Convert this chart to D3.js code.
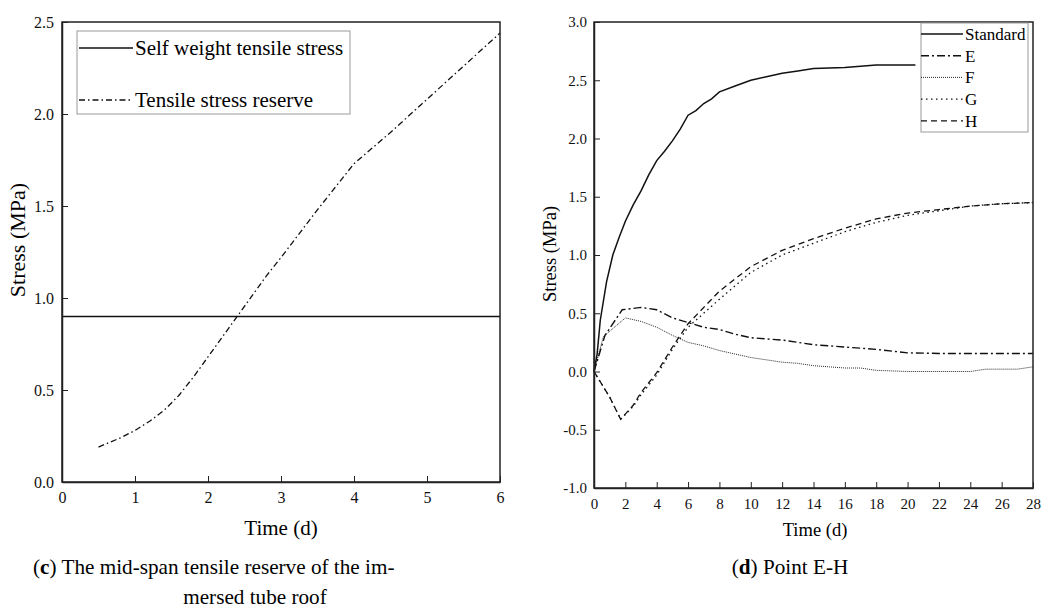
<!DOCTYPE html>
<html>
<head>
<meta charset="utf-8">
<script src="https://cdn.jsdelivr.net/npm/d3@7"></script>
<style>
  body { margin: 0; background: #fff; }
  svg { font-family: "Liberation Serif", "Times New Roman", serif; }
  .axis path, .axis line { stroke: #222; }
  .axis text { font-family: "Liberation Serif", serif; fill: #111; }
</style>
</head>
<body>
<script>
// ---- panel (c) data ----
const selfWeight = 0.9;
const reserveTime = [0.5, 0.8, 1.0, 1.2, 1.4, 1.6, 1.8, 2.0, 2.2, 2.4, 2.6, 2.8, 3.0, 3.5, 4.0, 4.5, 5.0, 5.5, 6.0];
const reserveStress = [0.19, 0.24, 0.28, 0.33, 0.39, 0.47, 0.57, 0.68, 0.79, 0.90, 1.01, 1.12, 1.22, 1.48, 1.73, 1.90, 2.08, 2.26, 2.44];
const cTicksX = [0, 1, 2, 3, 4, 5, 6];
const cTicksY = [0, 0.5, 1.0, 1.5, 2.0, 2.5];

// ---- panel (d) data ----
const stdTime = [0, 0.2, 0.4, 0.8, 1.2, 1.6, 2.0, 2.5, 3.0, 3.5, 4.0, 4.5, 5, 5.5, 6, 6.5, 7, 7.5, 8, 9, 10, 11, 12, 13, 14, 16, 18, 20.5];
const stdStress = [0, 0.15, 0.44, 0.77, 1.0, 1.15, 1.29, 1.43, 1.55, 1.69, 1.81, 1.89, 1.98, 2.08, 2.2, 2.24, 2.3, 2.34, 2.4, 2.45, 2.5, 2.53, 2.56, 2.58, 2.6, 2.61, 2.63, 2.63];
const eTime = [0, 0.7, 1.8, 3, 4, 5, 6, 7, 8, 9, 10, 12, 14, 16, 18, 20, 22, 24, 26, 28];
const eStress = [0, 0.31, 0.53, 0.55, 0.53, 0.46, 0.42, 0.38, 0.36, 0.32, 0.29, 0.27, 0.23, 0.21, 0.19, 0.16, 0.155, 0.155, 0.155, 0.155];
const fTime = [0, 0.6, 2, 3, 4, 5, 6, 7, 8, 9, 10, 11, 12, 13, 14, 15, 16, 17, 18, 20, 22, 24, 25, 27, 28];
const fStress = [0, 0.3, 0.46, 0.43, 0.38, 0.31, 0.25, 0.22, 0.18, 0.15, 0.12, 0.1, 0.08, 0.07, 0.05, 0.04, 0.03, 0.03, 0.01, 0.0, 0.0, 0.0, 0.02, 0.02, 0.04];
const ghTime = [0, 1.0, 1.7, 2.5, 3, 4, 5, 6, 8, 10, 12, 14, 16, 18, 20, 22, 24, 26, 28];
const gStress = [0, -0.22, -0.41, -0.3, -0.2, -0.03, 0.19, 0.38, 0.62, 0.85, 1.0, 1.1, 1.2, 1.28, 1.34, 1.38, 1.42, 1.44, 1.45];
const hStress = [0, -0.22, -0.41, -0.29, -0.18, -0.01, 0.21, 0.41, 0.69, 0.9, 1.04, 1.14, 1.23, 1.31, 1.36, 1.39, 1.42, 1.44, 1.45];
const dTicksX = d3.range(0, 29, 2);
const dTicksY = [-1.0, -0.5, 0, 0.5, 1.0, 1.5, 2.0, 2.5, 3.0];

const svg = d3.select("body").append("svg")
  .attr("width", 1046).attr("height", 608);

function zip(xs, ys) { return xs.map((x, i) => [x, ys[i]]); }
// plain hyphen for negatives, like the original
const fmt1 = d => d3.format(".1f")(d).replace("−", "-");

// ---------- panel (c) ----------
const cx = d3.scaleLinear().domain([0, 6]).range([62, 500]);
const cy = d3.scaleLinear().domain([0, 2.5]).range([482, 22]);

const cLine = d3.line().x(d => cx(d[0])).y(d => cy(d[1]));

svg.append("path")
  .attr("d", cLine([[0, selfWeight], [6, selfWeight]]))
  .attr("fill", "none").attr("stroke", "#111").attr("stroke-width", 1.5);

svg.append("path")
  .attr("d", cLine(zip(reserveTime, reserveStress)))
  .attr("fill", "none").attr("stroke", "#111").attr("stroke-width", 1.3)
  .attr("stroke-dasharray", "6,3,1.5,3");

// frame
svg.append("rect").attr("x", 62).attr("y", 22).attr("width", 438).attr("height", 460)
  .attr("fill", "none").attr("stroke", "#222").attr("stroke-width", 1.5);

svg.append("g").attr("class", "axis")
  .attr("transform", "translate(0,482)")
  .call(d3.axisBottom(cx).tickValues(cTicksX).tickFormat(d3.format("d"))
    .tickSizeInner(-6).tickSizeOuter(0).tickPadding(10))
  .call(g => g.selectAll("text").attr("font-size", 16))
  .call(g => g.select(".domain").attr("stroke-width", 1.5));

svg.append("g").attr("class", "axis")
  .attr("transform", "translate(62,0)")
  .call(d3.axisLeft(cy).tickValues(cTicksY).tickFormat(fmt1)
    .tickSizeInner(-6).tickSizeOuter(0).tickPadding(8))
  .call(g => g.selectAll("text").attr("font-size", 16))
  .call(g => g.select(".domain").attr("stroke-width", 1.5));

svg.append("text").attr("x", 281).attr("y", 535).attr("text-anchor", "middle")
  .attr("font-size", 21).text("Time (d)");
svg.append("text").attr("transform", "translate(25,240) rotate(-90)")
  .attr("text-anchor", "middle").attr("font-size", 22).text("Stress (MPa)");

// legend (c)
const cLeg = svg.append("g");
cLeg.append("rect").attr("x", 77).attr("y", 31).attr("width", 273).attr("height", 83)
  .attr("fill", "#fff").attr("stroke", "#999").attr("stroke-width", 1);
const cLegItems = [
  { label: "Self weight tensile stress", dash: null, y: 48 },
  { label: "Tensile stress reserve", dash: "6,3,1.5,3", y: 100 }
];
cLegItems.forEach(it => {
  cLeg.append("line").attr("x1", 79).attr("x2", 133).attr("y1", it.y).attr("y2", it.y)
    .attr("stroke", "#111").attr("stroke-width", 1.4).attr("stroke-dasharray", it.dash);
  cLeg.append("text").attr("x", 135).attr("y", it.y + 7).attr("font-size", 21).text(it.label);
});

// caption (c)
const capC = svg.append("text").attr("x", 33).attr("y", 574).attr("font-size", 21.2);
capC.append("tspan").text("(");
capC.append("tspan").attr("font-weight", "bold").text("c");
capC.append("tspan").text(") The mid-span tensile reserve of the im-");
svg.append("text").attr("x", 255).attr("y", 604).attr("text-anchor", "middle")
  .attr("font-size", 21.2).text("mersed tube roof");

// ---------- panel (d) ----------
const dx = d3.scaleLinear().domain([0, 28]).range([594, 1033]);
const dy = d3.scaleLinear().domain([-1, 3]).range([488, 22]);
const dLine = d3.line().x(d => dx(d[0])).y(d => dy(d[1]));

const series = [
  { name: "Standard", data: zip(stdTime, stdStress), dash: null, w: 1.5 },
  { name: "E", data: zip(eTime, eStress), dash: "8,3,2,3", w: 1.4 },
  { name: "F", data: zip(fTime, fStress), dash: "1,1", w: 0.9 },
  { name: "G", data: zip(ghTime, gStress), dash: "1.5,3.5", w: 1.3 },
  { name: "H", data: zip(ghTime, hStress), dash: "6,4", w: 1.3 }
];

series.forEach(s => {
  svg.append("path").attr("d", dLine(s.data))
    .attr("fill", "none").attr("stroke", "#111").attr("stroke-width", s.w)
    .attr("stroke-dasharray", s.dash);
});

svg.append("rect").attr("x", 594).attr("y", 22).attr("width", 439).attr("height", 466)
  .attr("fill", "none").attr("stroke", "#222").attr("stroke-width", 1.5);

svg.append("g").attr("class", "axis")
  .attr("transform", "translate(0,488)")
  .call(d3.axisBottom(dx).tickValues(dTicksX).tickFormat(d3.format("d"))
    .tickSizeInner(-6).tickSizeOuter(0).tickPadding(10))
  .call(g => g.selectAll("text").attr("font-size", 15))
  .call(g => g.select(".domain").attr("stroke-width", 1.5));

svg.append("g").attr("class", "axis")
  .attr("transform", "translate(594,0)")
  .call(d3.axisLeft(dy).tickValues(dTicksY).tickFormat(fmt1)
    .tickSizeInner(-6).tickSizeOuter(0).tickPadding(7))
  .call(g => g.selectAll("text").attr("font-size", 15))
  .call(g => g.select(".domain").attr("stroke-width", 1.5));

svg.append("text").attr("x", 815).attr("y", 536).attr("text-anchor", "middle")
  .attr("font-size", 18.5).text("Time (d)");
svg.append("text").attr("transform", "translate(556,254) rotate(-90)")
  .attr("text-anchor", "middle").attr("font-size", 18.5).text("Stress (MPa)");

// legend (d)
const dLeg = svg.append("g");
dLeg.append("rect").attr("x", 921).attr("y", 23).attr("width", 107).attr("height", 109)
  .attr("fill", "#fff").attr("stroke", "#999").attr("stroke-width", 1);
series.forEach((s, i) => {
  const y = 34 + i * 21.7;
  dLeg.append("line").attr("x1", 921).attr("x2", 963).attr("y1", y).attr("y2", y)
    .attr("stroke", "#111").attr("stroke-width", s.w).attr("stroke-dasharray", s.dash);
  dLeg.append("text").attr("x", 965).attr("y", y + 6).attr("font-size", 17).text(s.name);
});

// caption (d)
const capD = svg.append("text").attr("x", 790).attr("y", 574).attr("text-anchor", "middle")
  .attr("font-size", 21.2);
capD.append("tspan").text("(");
capD.append("tspan").attr("font-weight", "bold").text("d");
capD.append("tspan").text(") Point E-H");
</script>
</body>
</html>
